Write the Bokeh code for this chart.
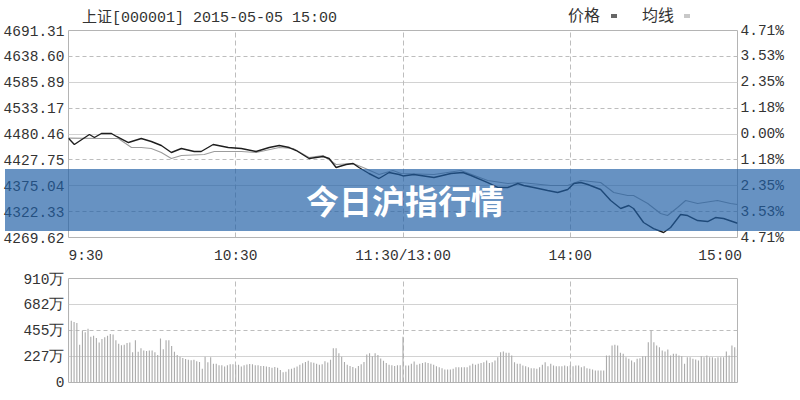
from bokeh.plotting import figure
from bokeh.layouts import GridBox
from bokeh.models import Range1d, LinearAxis, FixedTicker, Grid, Div
from bokeh.embed import file_html
from bokeh.resources import INLINE

# ---------------- data ----------------
title_text = "上证[000001] 2015-05-05 15:00"
banner_text = "今日沪指行情"
legend_names = ["价格", "均线"]

x_tick_minutes = [0, 60, 120, 180, 240]
x_tick_labels = ["\u00a0\u00a0\u00a0\u00a09:30", "10:30", "11:30/13:00", "14:00", "15:00\u00a0\u00a0\u00a0\u00a0"]
x_grid_minutes = [60, 120, 180]

price_tick_labels = ["4269.62", "4322.33", "4375.04", "4427.75", "4480.46",
                     "4533.17", "4585.89", "4638.60", "4691.31"]
pct_tick_labels = ["4.71%", "3.53%", "2.35%", "1.18%", "0.00%",
                   "1.18%", "2.35%", "3.53%", "4.71%"]
price_solid_grid = ["4375.04", "4480.46", "4585.89"]
price_dash_grid = ["4322.33", "4427.75", "4533.17", "4638.60"]

vol_tick_values = [0, 227.5, 455, 682.5, 910]
vol_tick_labels = ["0", "227万", "455万", "682万", "910万"]
vol_solid_grid = [227.5, 682.5]
vol_dash_grid = [455]

price_minutes = [0, 2.1, 7.5, 9.3, 11.8, 15.4, 17.2, 21.5, 26.1, 29.7, 33.3, 36.9, 40.5,
                 45.1, 47.6, 51.9, 57.3, 62.0, 67.3, 72.0, 75.6, 79.2, 81.7, 86.3, 91.3,
                 93.5, 96.0, 99.6, 102.1, 104.2, 107.8, 111.4, 115.0, 118.6, 120.0, 123.9,
                 131.1, 137.2, 141.5, 144.4, 150.4, 154.0, 157.6, 161.2, 163.3, 166.9,
                 171.9, 175.5, 179.1, 181.3, 183.8, 186.3, 190.9, 194.5, 198.1, 201.0,
                 202.7, 206.3, 209.9, 213.5, 216.0, 219.6, 222.1, 225.7, 229.3, 232.1,
                 235.0, 240.0]
price_values = [4472.0, 4459.1, 4479.4, 4473.3, 4481.5, 4481.5, 4475.4, 4463.1, 4471.3,
                4465.2, 4457.0, 4442.8, 4450.9, 4444.8, 4444.8, 4459.1, 4452.9, 4450.9,
                4444.8, 4452.9, 4457.0, 4452.9, 4446.8, 4430.5, 4434.6, 4430.5, 4412.2,
                4418.3, 4420.4, 4412.2, 4400.0, 4389.8, 4402.0, 4397.9, 4395.0, 4397.9,
                4391.8, 4400.0, 4402.0, 4395.9, 4381.6, 4371.5, 4371.5, 4379.6, 4375.5,
                4371.5, 4365.4, 4361.3, 4367.4, 4379.6, 4381.6, 4377.6, 4367.4, 4345.0,
                4328.7, 4334.8, 4328.7, 4300.2, 4287.9, 4279.8, 4290.0, 4316.5, 4314.4,
                4304.2, 4302.2, 4310.3, 4308.3, 4298.7]

avg_minutes = [0, 11.8, 17.9, 22.6, 26.1, 29.7, 33.3, 36.9, 40.5, 48.7, 52.3, 62.0, 67.3,
               75.6, 80.6, 86.3, 91.3, 96.0, 102.1, 105.7, 111.4, 116.4, 119.3, 131.1,
               140.8, 150.4, 157.6, 162.3, 173.0, 179.1, 183.8, 190.9, 195.6, 200.6,
               202.7, 207.8, 212.4, 214.9, 218.5, 221.4, 225.7, 232.8, 237.5, 240.0]
avg_values = [4472.0, 4471.3, 4471.3, 4452.9, 4452.9, 4450.9, 4442.8, 4430.5, 4436.7,
              4438.7, 4444.8, 4444.8, 4442.8, 4452.9, 4450.9, 4432.6, 4436.7, 4418.3,
              4420.4, 4412.2, 4397.9, 4406.1, 4400.0, 4397.9, 4406.1, 4385.7, 4379.6,
              4381.6, 4375.5, 4375.5, 4385.7, 4381.6, 4361.3, 4355.2, 4355.2, 4338.9,
              4318.5, 4314.4, 4330.7, 4345.0, 4338.9, 4345.0, 4338.9, 4336.8]

# volume per minute, in 万 (10k) shares
volume_wan = [
    805, 540, 530, 520, 330, 455, 440, 470, 400, 410,
    390, 350, 380, 395, 410, 425, 420, 370, 340, 325,
    330, 345, 350, 265, 370, 270, 300, 280, 275, 280,
    280, 265, 240, 385, 290, 370, 370, 320, 270, 240,
    225, 215, 205, 198, 195, 198, 185, 180, 120, 225,
    178, 220, 165, 165, 150, 150, 140, 150, 160, 160,
    150, 155, 140, 150, 158, 162, 160, 150, 150, 145,
    145, 140, 135, 130, 135, 128, 110, 90, 95, 115,
    120, 128, 140, 155, 168, 180, 190, 178, 172, 165,
    155, 160, 185, 175, 200, 300, 300, 255, 225, 180,
    155, 145, 135, 125, 145, 160, 180, 245, 255, 230,
    255, 240, 210, 190, 170, 155, 150, 145, 150, 150,
    400, 149, 149, 163, 184, 155, 163, 171, 178, 171,
    163, 155, 143, 134, 125, 114, 114, 114, 120, 134,
    134, 134, 134, 134, 149, 163, 155, 163, 171, 178,
    192, 171, 178, 192, 222, 265, 271, 260, 260, 236,
    178, 163, 163, 149, 143, 134, 125, 125, 120, 134,
    155, 178, 143, 163, 149, 143, 143, 143, 149, 143,
    149, 143, 149, 149, 134, 143, 125, 120, 114, 105,
    105, 105, 105, 236, 236, 324, 330, 324, 260, 251,
    222, 207, 192, 178, 207, 213, 230, 230, 353, 455,
    353, 324, 309, 280, 271, 289, 236, 251, 251, 236,
    230, 163, 222, 222, 207, 201, 192, 230, 222, 236,
    222, 222, 213, 222, 222, 222, 271, 236, 324, 309,
    295,
]
vol_minutes = list(range(len(volume_wan)))

# ---------------- styles ----------------
MONO = "Liberation Mono"
CJK = "Noto Sans CJK SC"
LABEL_COLOR = "#333333"
GRID_SOLID = "#d2d2d2"
GRID_DASH = "#bdbdbd"
FRAME = "#b4b4b4"
W, H = 800, 400

price_ticks = [float(s) for s in price_tick_labels]


def style_axis(ax, standoff):
    ax.axis_line_color = None
    ax.major_tick_line_color = None
    ax.minor_tick_line_color = None
    ax.major_tick_out = 0
    ax.major_tick_in = 0
    ax.minor_tick_out = 0
    ax.minor_tick_in = 0
    ax.major_label_text_font = MONO
    ax.major_label_text_font_size = "14.5px"
    ax.major_label_text_color = LABEL_COLOR
    ax.major_label_standoff = standoff


# ---------------- main price chart ----------------
p = figure(width=W, height=266, output_backend="svg", toolbar_location=None,
           title=None, x_range=Range1d(0, 240),
           y_range=Range1d(price_ticks[0], price_ticks[-1]),
           min_border_left=67, min_border_right=63, min_border_top=30,
           min_border_bottom=29)
p.background_fill_color = "white"
p.border_fill_color = "white"
p.outline_line_color = FRAME
p.xgrid.visible = False
p.ygrid.visible = False

style_axis(p.xaxis[0], 10)
p.xaxis[0].ticker = FixedTicker(ticks=x_tick_minutes)
p.xaxis[0].major_label_overrides = dict(zip(x_tick_minutes, x_tick_labels))

style_axis(p.yaxis[0], 4)
p.yaxis[0].ticker = FixedTicker(ticks=price_ticks)
p.yaxis[0].major_label_overrides = dict(zip(price_ticks, price_tick_labels))

right = LinearAxis(ticker=FixedTicker(ticks=price_ticks),
                   major_label_overrides=dict(zip(price_ticks, pct_tick_labels)))
style_axis(right, 3)
p.add_layout(right, "right")

p.add_layout(Grid(dimension=1, ticker=FixedTicker(ticks=[float(s) for s in price_solid_grid]),
                  grid_line_color=GRID_SOLID, grid_line_width=1))
p.add_layout(Grid(dimension=1, ticker=FixedTicker(ticks=[float(s) for s in price_dash_grid]),
                  grid_line_color=GRID_DASH, grid_line_width=1, grid_line_dash="4 3"))
p.add_layout(Grid(dimension=0, ticker=FixedTicker(ticks=x_grid_minutes),
                  grid_line_color=GRID_DASH, grid_line_width=1, grid_line_dash="5 3"))

p.line(avg_minutes, avg_values, line_color="#9c9c9c", line_width=1.1)
p.line(price_minutes, price_values, line_color="#1e1e1e", line_width=1.4)

# ---------------- volume chart ----------------
v = figure(width=W, height=134, output_backend="svg", toolbar_location=None,
           title=None, x_axis_type=None, x_range=p.x_range,
           y_range=Range1d(0, vol_tick_values[-1]),
           min_border_left=67, min_border_right=63, min_border_top=7,
           min_border_bottom=23)
v.background_fill_color = "white"
v.border_fill_color = "white"
v.outline_line_color = FRAME
v.ygrid.visible = False

vy = v.yaxis[0]
style_axis(vy, 4)
vy.ticker = FixedTicker(ticks=vol_tick_values)
vy.major_label_overrides = dict(zip(vol_tick_values, vol_tick_labels))

v.add_layout(Grid(dimension=1, ticker=FixedTicker(ticks=vol_solid_grid),
                  grid_line_color=GRID_SOLID, grid_line_width=1))
v.add_layout(Grid(dimension=1, ticker=FixedTicker(ticks=vol_dash_grid),
                  grid_line_color=GRID_DASH, grid_line_width=1, grid_line_dash="4 3"))
v.add_layout(Grid(dimension=0, ticker=FixedTicker(ticks=x_grid_minutes),
                  grid_line_color=GRID_DASH, grid_line_width=1, grid_line_dash="5 3"))

v.vbar(x=vol_minutes, top=volume_wan, width=0.4, fill_color="#ababab", line_color=None)

# ---------------- overlay: header texts and the banner ----------------
overlay_html = f"""
<div style="position:relative;width:{W}px;height:{H}px;pointer-events:none;">
  <span style="position:absolute;left:77px;top:5px;font-family:'{MONO}','{CJK}';
        font-size:15px;line-height:17px;color:{LABEL_COLOR};white-space:nowrap;">{title_text}</span>
  <span style="position:absolute;left:563px;top:0px;font-family:'{CJK}';
        font-size:16px;line-height:18px;color:{LABEL_COLOR};white-space:nowrap;">{legend_names[0]}</span>
  <span style="position:absolute;left:606px;top:9px;width:6px;height:4px;background:#666666;"></span>
  <span style="position:absolute;left:637px;top:0px;font-family:'{CJK}';
        font-size:16px;line-height:18px;color:{LABEL_COLOR};white-space:nowrap;">{legend_names[1]}</span>
  <span style="position:absolute;left:679px;top:9px;width:6px;height:4px;background:#c8c8c8;"></span>
  <div style="position:absolute;left:0;top:164px;width:{W}px;height:62px;
       background:rgba(31,95,165,0.68);display:flex;align-items:center;justify-content:center;">
    <span style="font-family:'{CJK}';font-weight:bold;font-size:33px;line-height:40px;
          color:white;white-space:nowrap;">{banner_text}</span>
  </div>
</div>
"""
ov = Div(text=overlay_html, width=W, height=H)

layout = GridBox(children=[(p, 0, 0), (v, 1, 0), (ov, 0, 0, 2, 1)])
open("out.html", "w").write(file_html(layout, INLINE))
